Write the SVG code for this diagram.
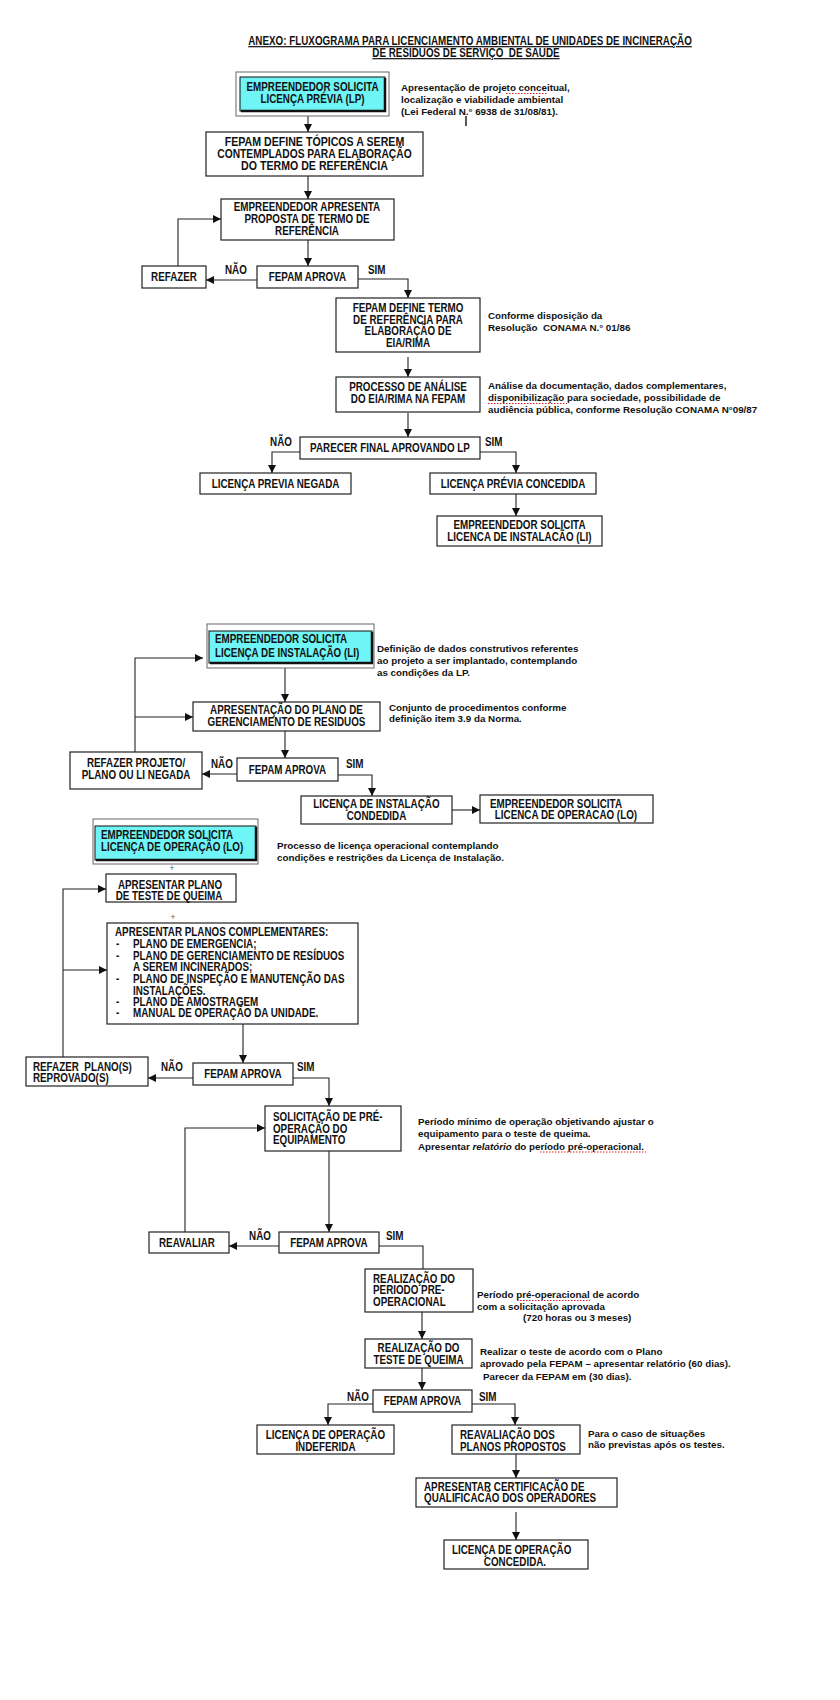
<svg xmlns="http://www.w3.org/2000/svg" width="840" height="1700" viewBox="0 0 840 1700">
<style>
.bx{fill:#fff;stroke:#222;stroke-width:1.2}
.fr{fill:#fff;stroke:#666;stroke-width:1}
.cy{fill:#6ff5f5;stroke:#111;stroke-width:1}
.sh{fill:none;stroke:#111;stroke-width:2.5}
.b{font-family:"Liberation Sans",Arial,sans-serif;font-weight:bold;font-size:12px;fill:#111}
.c{text-anchor:middle}
.n{font-family:"Liberation Sans",Arial,sans-serif;font-weight:bold;font-size:9.8px;fill:#111}
.t{font-family:"Liberation Sans",Arial,sans-serif;font-weight:bold;font-size:12px;fill:#111;text-decoration:underline;text-anchor:middle}
.ln{fill:none;stroke:#222;stroke-width:1.1}
.sq{fill:none;stroke:#e02020;stroke-width:1;stroke-dasharray:1.5 1.5}
</style>
<defs>
<marker id="ah" markerUnits="userSpaceOnUse" markerWidth="9" markerHeight="8" refX="8" refY="4" orient="auto">
<path d="M0,0 L8,4 L0,8 z" fill="#111"/>
</marker>
</defs>
<rect width="840" height="1700" fill="#fff"/>

<g id="title" transform="scale(0.82 1)">
<text class="t" x="573.2" y="45">ANEXO: FLUXOGRAMA PARA LICENCIAMENTO AMBIENTAL DE UNIDADES DE INCINERAÇÃO</text>
<text class="t" x="568.3" y="57" xml:space="preserve">DE RESIDUOS DE SERVIÇO  DE SAUDE</text>
</g>

<g id="connectors" class="ln">
<path d="M308,116 V132" marker-end="url(#ah)"/>
<path d="M308,176 V199" marker-end="url(#ah)"/>
<path d="M308,240 V266" marker-end="url(#ah)"/>
<path d="M257,280 H206" marker-end="url(#ah)"/>
<path d="M178,266 V219 H221" marker-end="url(#ah)"/>
<path d="M358,279 H408 V298" marker-end="url(#ah)"/>
<path d="M408,357 V377" marker-end="url(#ah)"/>
<path d="M408,413 V437" marker-end="url(#ah)"/>
<path d="M300,452 H272 V473" marker-end="url(#ah)"/>
<path d="M480,452 H516 V473" marker-end="url(#ah)"/>
<path d="M516,494 V516" marker-end="url(#ah)"/>
<path d="M285,668 V702" marker-end="url(#ah)"/>
<path d="M285,731 V758" marker-end="url(#ah)"/>
<path d="M237,774 H202" marker-end="url(#ah)"/>
<path d="M135,752 V658 H203" marker-end="url(#ah)"/>
<path d="M135,717 H193" marker-end="url(#ah)"/>
<path d="M338,775 H372 V796" marker-end="url(#ah)"/>
<path d="M452,810 H480" marker-end="url(#ah)"/>
<path d="M63,1057 V889 H106" marker-end="url(#ah)"/>
<path d="M63,970 H107" marker-end="url(#ah)"/>
<path d="M243,1024 V1063" marker-end="url(#ah)"/>
<path d="M193,1078 H148" marker-end="url(#ah)"/>
<path d="M293,1078 H329 V1106" marker-end="url(#ah)"/>
<path d="M329,1151 V1232" marker-end="url(#ah)"/>
<path d="M185,1232 V1128 H265" marker-end="url(#ah)"/>
<path d="M279,1246 H229" marker-end="url(#ah)"/>
<path d="M379,1246 H423 V1269"/>
<path d="M422,1312 V1339" marker-end="url(#ah)"/>
<path d="M422,1368 V1390" marker-end="url(#ah)"/>
<path d="M373,1404 H328 V1425" marker-end="url(#ah)"/>
<path d="M472,1404 H515 V1425" marker-end="url(#ah)"/>
<path d="M516,1454 V1478" marker-end="url(#ah)"/>
<path d="M516,1512 V1540" marker-end="url(#ah)"/>
</g>

<g id="labels" class="b" transform="scale(0.82 1)">
<text x="274.4" y="274">NÃO</text>
<text x="448.8" y="274">SIM</text>
<text x="329.3" y="446">NÃO</text>
<text x="591.5" y="446">SIM</text>
<text x="257.3" y="768">NÃO</text>
<text x="421.9" y="768">SIM</text>
<text x="196.3" y="1071">NÃO</text>
<text x="362.2" y="1071">SIM</text>
<text x="303.7" y="1240">NÃO</text>
<text x="470.7" y="1240">SIM</text>
<text x="423.2" y="1401">NÃO</text>
<text x="584.1" y="1401">SIM</text>
</g>

<g id="n_lp">
<rect class="fr" x="236" y="72" width="153" height="44"/>
<rect class="cy" x="240" y="77" width="145" height="34"/>
<path class="sh" d="M241,111 H385 V78"/>
<g class="b c" transform="scale(0.82 1)">
<text x="381.1" y="91">EMPREENDEDOR SOLICITA</text>
<text x="381.1" y="103">LICENÇA PRÉVIA (LP)</text>
</g>
</g>
<g id="note_lp" class="n">
<text x="401" y="91">Apresentação de projeto conceitual,</text>
<text x="401" y="103">localização e viabilidade ambiental</text>
<text x="401" y="115">(Lei Federal N.° 6938 de 31/08/81).</text>
<path class="sq" d="M506,93.5 H547"/>
<path d="M466,116 V126" stroke="#222" stroke-width="1.5"/>
</g>
<g id="n_topicos">
<rect class="bx" x="206" y="132" width="217" height="44"/>
<g class="b c" transform="scale(0.82 1)">
<text x="383.5" y="146.5" textLength="219" lengthAdjust="spacingAndGlyphs">FEPAM DEFINE TÓPICOS A SEREM</text>
<text x="383.5" y="158.5" textLength="237" lengthAdjust="spacingAndGlyphs">CONTEMPLADOS PARA ELABORAÇÃO</text>
<text x="383.5" y="170.5" textLength="179" lengthAdjust="spacingAndGlyphs">DO TERMO DE REFERÊNCIA</text>
</g>
</g>
<g id="n_proposta">
<rect class="bx" x="221" y="199" width="173" height="41"/>
<g class="b c" transform="scale(0.82 1)">
<text x="374.4" y="211">EMPREENDEDOR APRESENTA</text>
<text x="374.4" y="223">PROPOSTA DE TERMO DE</text>
<text x="374.4" y="235">REFERÊNCIA</text>
</g>
</g>
<g id="n_aprova1">
<rect class="bx" x="257" y="266" width="101" height="22"/>
<text class="b c" transform="scale(0.82 1)" x="375" y="281.5">FEPAM APROVA</text>
</g>
<g id="n_refazer1">
<rect class="bx" x="142" y="266" width="64" height="22"/>
<text class="b c" transform="scale(0.82 1)" x="212.2" y="281.5">REFAZER</text>
</g>
<g id="n_termo">
<rect class="bx" x="336" y="298" width="144" height="54"/>
<g class="b c" transform="scale(0.82 1)">
<text x="497.6" y="312">FEPAM DEFINE TERMO</text>
<text x="497.6" y="324">DE REFERÊNCIA PARA</text>
<text x="497.6" y="335.5">ELABORAÇÃO DE</text>
<text x="497.6" y="347">EIA/RIMA</text>
</g>
</g>
<g id="note_termo" class="n">
<text x="488" y="319">Conforme disposição da</text>
<text x="488" y="331" xml:space="preserve">Resolução  CONAMA N.° 01/86</text>
</g>
<g id="n_processo">
<rect class="bx" x="336" y="377" width="144" height="35"/>
<g class="b c" transform="scale(0.82 1)">
<text x="497.6" y="391">PROCESSO DE ANÁLISE</text>
<text x="497.6" y="403">DO EIA/RIMA NA FEPAM</text>
</g>
</g>
<g id="note_processo" class="n">
<text x="488" y="389">Análise da documentação, dados complementares,</text>
<text x="488" y="401">disponibilização para sociedade, possibilidade de</text>
<text x="488" y="413">audiência pública, conforme Resolução CONAMA N°09/87</text>
<path class="sq" d="M488,403.5 H567"/>
</g>
<g id="n_parecer">
<rect class="bx" x="300" y="437" width="180" height="22"/>
<text class="b c" transform="scale(0.82 1)" x="475.6" y="452.5">PARECER FINAL APROVANDO LP</text>
</g>
<g id="n_lp_negada">
<rect class="bx" x="200" y="473" width="151" height="21"/>
<text class="b c" transform="scale(0.82 1)" x="336" y="488">LICENÇA PREVIA NEGADA</text>
</g>
<g id="n_lp_concedida">
<rect class="bx" x="430" y="473" width="166" height="21"/>
<text class="b c" transform="scale(0.82 1)" x="625.6" y="488">LICENÇA PRÉVIA CONCEDIDA</text>
</g>
<g id="n_solicita_li1">
<rect class="bx" x="437" y="516" width="165" height="30"/>
<g class="b c" transform="scale(0.82 1)">
<text x="633.5" y="529.5">EMPREENDEDOR SOLICITA</text>
<text x="633.5" y="541">LICENCA DE INSTALACÃO (LI)</text>
</g>
</g>

<g id="n_li">
<rect class="fr" x="207" y="624" width="167" height="44"/>
<rect class="cy" x="209" y="631" width="163" height="32"/>
<path class="sh" d="M210,663 H372 V632"/>
<g class="b" transform="scale(0.82 1)">
<text x="262.2" y="643">EMPREENDEDOR SOLICITA</text>
<text x="262.2" y="657">LICENÇA DE INSTALAÇÃO (LI)</text>
</g>
</g>
<g id="note_li" class="n">
<text x="377" y="652">Definição de dados construtivos referentes</text>
<text x="377" y="664">ao projeto a ser implantado, contemplando</text>
<text x="377" y="676">as condições da LP.</text>
</g>
<g id="n_plano_res">
<rect class="bx" x="193" y="702" width="187" height="29"/>
<g class="b c" transform="scale(0.82 1)">
<text x="349.4" y="714">APRESENTAÇÃO DO PLANO DE</text>
<text x="349.4" y="726">GERENCIAMENTO DE RESIDUOS</text>
</g>
</g>
<g id="note_plano_res" class="n">
<text x="389" y="711">Conjunto de procedimentos conforme</text>
<text x="389" y="722">definição item 3.9 da Norma.</text>
</g>
<g id="n_aprova2">
<rect class="bx" x="237" y="758" width="101" height="23"/>
<text class="b c" transform="scale(0.82 1)" x="350.6" y="774">FEPAM APROVA</text>
</g>
<g id="n_refazer2">
<rect class="bx" x="70" y="752" width="132" height="37"/>
<g class="b c" transform="scale(0.82 1)">
<text x="165.9" y="767">REFAZER PROJETO/</text>
<text x="165.9" y="779">PLANO OU LI NEGADA</text>
</g>
</g>
<g id="n_li_concedida">
<rect class="bx" x="301" y="796" width="151" height="28"/>
<g class="b c" transform="scale(0.82 1)">
<text x="459.1" y="808">LICENÇA DE INSTALAÇÃO</text>
<text x="459.1" y="820">CONDEDIDA</text>
</g>
</g>
<g id="n_solicita_lo1">
<rect class="bx" x="480" y="795" width="173" height="28"/>
<g class="b c" transform="scale(0.82 1)">
<text x="678" y="808.5">EMPREENDEDOR SOLICITA</text>
<text x="690.2" y="819.5">LICENCA DE OPERACAO (LO)</text>
</g>
</g>

<g id="n_lo">
<rect class="fr" x="93" y="819" width="165" height="45"/>
<rect class="cy" x="95" y="826" width="161" height="34"/>
<path class="sh" d="M96,860 H256 V827"/>
<g class="b" transform="scale(0.82 1)">
<text x="123.2" y="839">EMPREENDEDOR SOLICITA</text>
<text x="123.2" y="851">LICENÇA DE OPERAÇÃO (LO)</text>
</g>
</g>
<g id="note_lo" class="n">
<text x="277" y="849">Processo de licença operacional contemplando</text>
<text x="277" y="861">condições e restrições da Licença de Instalação.</text>
</g>
<g id="plus" font-family="Liberation Sans, sans-serif" font-size="9" fill="#666" text-anchor="middle">
<text x="172" y="871">+</text>
<text x="173" y="920">+</text>
</g>
<g id="n_teste_queima">
<rect class="bx" x="106" y="874" width="130" height="28"/>
<g class="b c" transform="scale(0.82 1)">
<text x="207.3" y="889">APRESENTAR PLANO</text>
<text x="206.1" y="900">DE TESTE DE QUEIMA</text>
</g>
</g>
<g id="n_complementares">
<rect class="bx" x="107" y="923" width="251" height="101"/>
<g class="b" transform="scale(0.82 1)">
<text x="140.2" y="936">APRESENTAR PLANOS COMPLEMENTARES:</text>
<text x="141.5" y="948">-</text><text x="162.2" y="948">PLANO DE EMERGENCIA;</text>
<text x="141.5" y="960">-</text><text x="162.2" y="960">PLANO DE GERENCIAMENTO DE RESÍDUOS</text>
<text x="162.2" y="971.5">A SEREM INCINERADOS;</text>
<text x="141.5" y="983">-</text><text x="162.2" y="983">PLANO DE INSPEÇÃO E MANUTENÇÃO DAS</text>
<text x="162.2" y="995">INSTALAÇÕES.</text>
<text x="141.5" y="1006.5">-</text><text x="162.2" y="1006.5">PLANO DE AMOSTRAGEM</text>
<text x="141.5" y="1017.5">-</text><text x="162.2" y="1017.5">MANUAL DE OPERAÇÃO DA UNIDADE.</text>
</g>
</g>
<g id="n_aprova3">
<rect class="bx" x="193" y="1063" width="100" height="22"/>
<text class="b c" transform="scale(0.82 1)" x="296.3" y="1078.5">FEPAM APROVA</text>
</g>
<g id="n_refazer3">
<rect class="bx" x="26" y="1057" width="122" height="29"/>
<g class="b" transform="scale(0.82 1)">
<text x="40.2" y="1071" xml:space="preserve">REFAZER  PLANO(S)</text>
<text x="40.2" y="1082">REPROVADO(S)</text>
</g>
</g>
<g id="n_preop">
<rect class="bx" x="265" y="1106" width="136" height="45"/>
<g class="b" transform="scale(0.82 1)">
<text x="332.9" y="1121">SOLICITAÇÃO DE PRÉ-</text>
<text x="332.9" y="1133">OPERAÇÃO DO</text>
<text x="332.9" y="1144.5">EQUIPAMENTO</text>
</g>
</g>
<g id="note_preop" class="n">
<text x="418" y="1125">Período mínimo de operação objetivando ajustar o</text>
<text x="418" y="1137">equipamento para o teste de queima.</text>
<text x="418" y="1149.5">Apresentar <tspan font-style="italic">relatório</tspan> do período pré-operacional.</text>
<path class="sq" d="M540,1152 H646"/>
</g>
<g id="n_aprova4">
<rect class="bx" x="279" y="1232" width="100" height="21"/>
<text class="b c" transform="scale(0.82 1)" x="401.2" y="1247">FEPAM APROVA</text>
</g>
<g id="n_reavaliar">
<rect class="bx" x="149" y="1232" width="80" height="21"/>
<text class="b c" transform="scale(0.82 1)" x="228" y="1247">REAVALIAR</text>
</g>
<g id="n_periodo">
<rect class="bx" x="365" y="1269" width="108" height="43"/>
<g class="b" transform="scale(0.82 1)">
<text x="454.9" y="1283">REALIZAÇÃO DO</text>
<text x="454.9" y="1294.5">PERIODO PRE-</text>
<text x="454.9" y="1306">OPERACIONAL</text>
</g>
</g>
<g id="note_periodo" class="n">
<text x="477" y="1298">Período pré-operacional de acordo</text>
<text x="477" y="1309.5">com a solicitação aprovada</text>
<text x="523" y="1321">(720 horas ou 3 meses)</text>
<path class="sq" d="M517,1300.5 H590"/>
</g>
<g id="n_teste">
<rect class="bx" x="365" y="1339" width="107" height="29"/>
<g class="b c" transform="scale(0.82 1)">
<text x="510.4" y="1352.5">REALIZAÇÃO DO</text>
<text x="510.4" y="1364">TESTE DE QUEIMA</text>
</g>
</g>
<g id="note_teste" class="n">
<text x="480" y="1355">Realizar o teste de acordo com o Plano</text>
<text x="480" y="1367">aprovado pela FEPAM – apresentar relatório (60 dias).</text>
<text x="483" y="1380">Parecer da FEPAM em (30 dias).</text>
</g>
<g id="n_aprova5">
<rect class="bx" x="373" y="1390" width="99" height="22"/>
<text class="b c" transform="scale(0.82 1)" x="515.2" y="1405">FEPAM APROVA</text>
</g>
<g id="n_indeferida">
<rect class="bx" x="257" y="1425" width="137" height="29"/>
<g class="b c" transform="scale(0.82 1)">
<text x="396.9" y="1439">LICENÇA DE OPERAÇÃO</text>
<text x="396.9" y="1451">INDEFERIDA</text>
</g>
</g>
<g id="n_reavaliacao">
<rect class="bx" x="452" y="1425" width="128" height="29"/>
<g class="b" transform="scale(0.82 1)">
<text x="561" y="1439">REAVALIAÇÃO DOS</text>
<text x="561" y="1451">PLANOS PROPOSTOS</text>
</g>
</g>
<g id="note_reavaliacao" class="n">
<text x="588" y="1437">Para o caso de situações</text>
<text x="588" y="1448">não previstas após os testes.</text>
</g>
<g id="n_certificacao">
<rect class="bx" x="416" y="1478" width="201" height="29"/>
<g class="b" transform="scale(0.82 1)">
<text x="517.1" y="1491">APRESENTAR CERTIFICAÇÃO DE</text>
<text x="517.1" y="1502.5">QUALIFICACÃO DOS OPERADORES</text>
</g>
</g>
<g id="n_lo_concedida">
<rect class="bx" x="444" y="1540" width="144" height="29"/>
<g class="b" transform="scale(0.82 1)">
<text x="551.2" y="1554">LICENÇA DE OPERAÇÃO</text>
<text class="c" x="628" y="1566">CONCEDIDA.</text>
</g>
</g>
</svg>
